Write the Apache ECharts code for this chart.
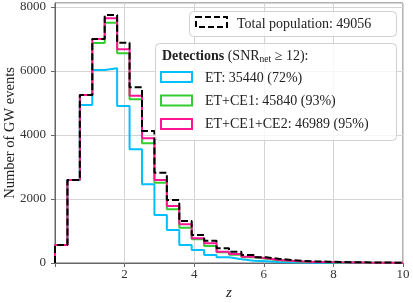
<!DOCTYPE html>
<html>
<head>
<meta charset="utf-8">
<script src="https://cdn.jsdelivr.net/npm/echarts@6/dist/echarts.min.js"></script>
<style>
html,body{margin:0;padding:0;background:#fff;}
#chart{width:413px;height:303px;}
</style>
</head>
<body>
<div id="chart"></div>
<script>
// ---- data ----
const zRange = [0, 10];
const binCount = 28;
const totalCounts = [562, 2594, 5250, 7000, 7750, 6885, 5490, 4125, 2823, 1969, 1312, 875, 698, 458, 354, 250, 177, 135, 94, 62, 50, 40, 32, 25, 20, 15, 12, 10];
const ce2Counts   = [562, 2594, 5250, 7000, 7646, 6677, 5229, 3896, 2594, 1781, 1208, 771, 615, 354, 281, 198, 146, 94, 72, 45, 35, 28, 22, 17, 13, 10, 8, 6];
const ce1Counts   = [562, 2594, 5250, 6875, 7510, 6552, 5115, 3740, 2510, 1677, 1104, 740, 531, 333, 260, 180, 130, 85, 62, 40, 30, 24, 18, 14, 11, 8, 6, 5];
const etCounts    = [562, 2594, 4937, 6031, 6083, 4906, 3552, 2458, 1500, 1031, 562, 406, 250, 177, 115, 73, 52, 30, 20, 14, 10, 7, 5, 4, 3, 2, 2, 1];
const yTicks = [0, 2000, 4000, 6000, 8000];
const xTicks = [2, 4, 6, 8, 10];
const yAxisTitle = 'Number of GW events';
const xAxisTitle = 'z';
const legendTotal = 'Total population: 49056';
const legendRows = ['ET: 35440 (72%)', 'ET+CE1: 45840 (93%)', 'ET+CE1+CE2: 46989 (95%)'];

const FONT = '"Liberation Serif", "DejaVu Serif", serif';
const colors = {et: '#00BFFF', ce1: '#32CD32', ce2: '#FF1493', total: '#000000'};

const binWidth = (zRange[1] - zRange[0]) / binCount;
function stepData(counts) {
  const pts = [[zRange[0], 0]];
  counts.forEach((c, i) => pts.push([zRange[0] + i * binWidth, c]));
  pts.push([zRange[1], counts[counts.length - 1]]);
  pts.push([zRange[1], 0]);
  return pts;
}
function histSeries(name, counts, color, dashed) {
  return {
    name, type: 'line', step: 'end', data: stepData(counts),
    symbol: 'none', animation: false,
    lineStyle: {color, width: 2, type: dashed ? [7, 3] : 'solid'},
    emphasis: {disabled: true}
  };
}

const chart = echarts.init(document.getElementById('chart'), null, {renderer: 'canvas'});
const axisColor = '#666';
const gridColor = '#d4d4d4';
const legendBox = {fill: 'rgba(255,255,255,0.8)', stroke: '#d0d0d0', lineWidth: 1};

chart.setOption({
  animation: false,
  backgroundColor: '#fff',
  grid: {left: 55, right: 10, top: 3, bottom: 40, show: true, borderColor: axisColor, borderWidth: 1,
         backgroundColor: 'transparent', containLabel: false, outerBoundsMode: 'none'},
  xAxis: {
    type: 'value', min: zRange[0], max: zRange[1], interval: 2,
    name: xAxisTitle, nameLocation: 'middle', nameGap: 22,
    nameTextStyle: {fontFamily: FONT, fontSize: 15, fontStyle: 'italic', color: '#222'},
    axisLine: {show: true, lineStyle: {color: axisColor, width: 1}},
    axisTick: {show: true, inside: false, length: 4, lineStyle: {color: axisColor}},
    axisLabel: {fontFamily: FONT, fontSize: 13, color: '#333', margin: 5,
      formatter: v => xTicks.includes(v) ? String(v) : ''},
    splitLine: {show: true, lineStyle: {color: gridColor, width: 1}}
  },
  yAxis: {
    type: 'value', min: 0, max: 8125, interval: 2000,
    axisLine: {show: true, lineStyle: {color: axisColor, width: 1}},
    axisTick: {show: true, inside: false, length: 4, lineStyle: {color: axisColor}},
    axisLabel: {fontFamily: FONT, fontSize: 13, color: '#333', margin: 9, showMaxLabel: false,
      formatter: v => yTicks.includes(v) ? String(v) : ''},
    splitLine: {show: true, lineStyle: {color: gridColor, width: 1}}
  },
  series: [
    histSeries('ET', etCounts, colors.et, false),
    histSeries('ET+CE1', ce1Counts, colors.ce1, false),
    histSeries('ET+CE1+CE2', ce2Counts, colors.ce2, false),
    histSeries('Total', totalCounts, colors.total, true)
  ],
  graphic: [
    // y axis title
    {type: 'text', z: 50, x: 10, y: 133, rotation: Math.PI / 2,
     style: {text: yAxisTitle, fontFamily: FONT, fontSize: 14.5, fill: '#222', align: 'center', verticalAlign: 'middle'}},
    // legend 1
    {type: 'rect', z: 100, shape: {x: 189.5, y: 11.5, width: 207, height: 25, r: 4}, style: legendBox},
    {type: 'rect', z: 101, shape: {x: 196, y: 17, width: 31, height: 10}, style: {fill: 'none', stroke: colors.total, lineWidth: 2, lineDash: [6, 3]}},
    {type: 'text', z: 101, x: 237, y: 24, style: {text: legendTotal, fontFamily: FONT, fontSize: 14, fill: '#222', verticalAlign: 'middle'}},
    // legend 2
    {type: 'rect', z: 100, shape: {x: 155.5, y: 43.5, width: 241, height: 97, r: 4}, style: legendBox},
    {type: 'text', z: 101, x: 162, y: 56, style: {
      text: '{b|Detections} (SNR{s|net} ≥ 12):',
      fontFamily: FONT, fontSize: 14, fill: '#222', verticalAlign: 'middle',
      rich: {b: {fontFamily: FONT, fontSize: 14, fontWeight: 'bold', fill: '#222'},
             s: {fontFamily: FONT, fontSize: 9.5, fill: '#222', padding: [7, 0, 0, 0]}}
    }},
    {type: 'rect', z: 101, shape: {x: 161, y: 72, width: 31, height: 10}, style: {fill: 'none', stroke: colors.et, lineWidth: 2}},
    {type: 'text', z: 101, x: 205, y: 78, style: {text: legendRows[0], fontFamily: FONT, fontSize: 14, fill: '#222', verticalAlign: 'middle'}},
    {type: 'rect', z: 101, shape: {x: 161, y: 95.5, width: 31, height: 10}, style: {fill: 'none', stroke: colors.ce1, lineWidth: 2}},
    {type: 'text', z: 101, x: 205, y: 101, style: {text: legendRows[1], fontFamily: FONT, fontSize: 14, fill: '#222', verticalAlign: 'middle'}},
    {type: 'rect', z: 101, shape: {x: 161, y: 119, width: 31, height: 10}, style: {fill: 'none', stroke: colors.ce2, lineWidth: 2}},
    {type: 'text', z: 101, x: 205, y: 124.5, style: {text: legendRows[2], fontFamily: FONT, fontSize: 14, fill: '#222', verticalAlign: 'middle'}}
  ]
});
</script>
</body>
</html>
